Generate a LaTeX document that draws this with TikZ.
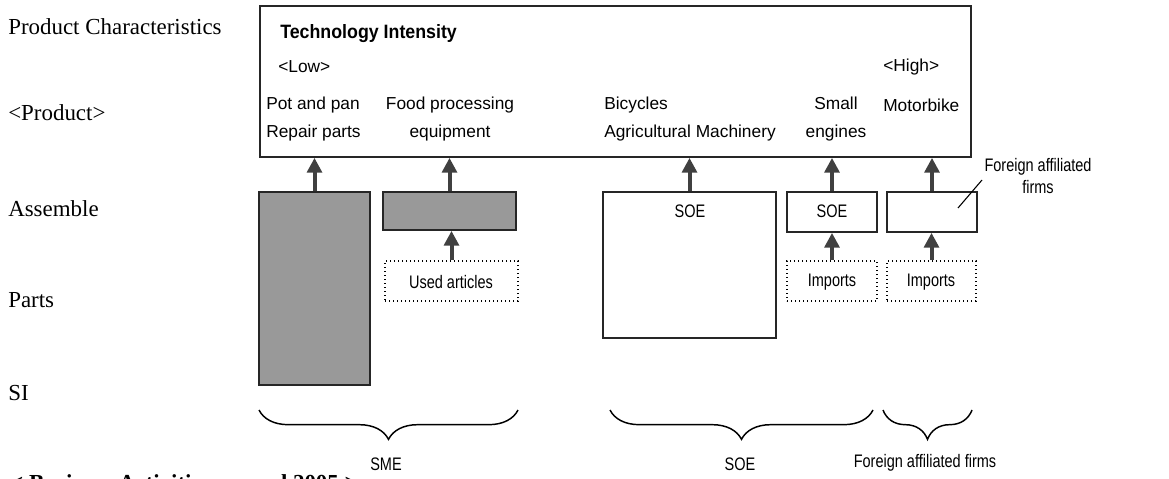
\documentclass[tikz,border=0pt]{standalone}
\usepackage{fontspec}
\setmainfont{Liberation Serif}
\newfontfamily\arialf{Liberation Sans}
\newfontfamily\arialn[FakeStretch=0.8]{Liberation Sans}
\newfontfamily\arialb[FakeStretch=0.92]{Liberation Sans}
\usetikzlibrary{arrows.meta,fit,decorations.pathreplacing}
\definecolor{arrowgray}{HTML}{404040}
\definecolor{boxgray}{HTML}{999999}
\begin{document}
\begin{tikzpicture}[x=0.75pt,y=-0.75pt,
  sidelbl/.style={font=\fontsize{17.2}{20}\selectfont, anchor=west, inner sep=0pt},
  prodlbl/.style={font=\arialf\fontsize{13}{21.5}\selectfont, inner sep=0pt},
  smalllbl/.style={font=\arialn\fontsize{13.6}{17}\selectfont, inner sep=0pt},
  solidbox/.style={draw=black!85, line width=1.3pt, inner sep=0pt},
  graybox/.style={solidbox, fill=boxgray},
  dotbox/.style={draw=black, dotted, line width=1pt, inner sep=0pt},
  uparrow/.style={draw=arrowgray, line width=3pt, -{Triangle[width=11pt,length=11pt]}},
  bracestyle/.style={draw=black, line width=1.1pt, decorate, decoration={brace, mirror, amplitude=22pt}}
]
\useasboundingbox (0,0) rectangle (1169,478);

% left labels
\node[sidelbl] (lpc) at (8,27) {Product Characteristics};
\node[sidelbl] (lprod) at (8,113) {<Product>};
\node[sidelbl] (lasm) at (8,209) {Assemble};
\node[sidelbl] (lparts) at (8,300) {Parts};
\node[sidelbl] (lsi) at (8,393) {SI};
\node[font=\bfseries\fontsize{17.2}{20}\selectfont, anchor=base west, inner sep=0pt] (lbiz) at (10,490) {< Business Activities around 2005 >};

% main box
\node[solidbox, fit={(260,6) (971,157)}] (main) {};
\node[font=\arialb\bfseries\fontsize{14.5}{16}\selectfont, anchor=west, inner sep=0pt] (tech) at (280,34) {Technology Intensity};
\node[prodlbl, anchor=west] (low) at (278,67) {<Low>};
\node[prodlbl, anchor=west] (high) at (883,67) {<High>};
\node[prodlbl, anchor=west, align=left] (p1) at (266,119) {Pot and pan\\Repair parts};
\node[prodlbl, align=center] (p2) at (450,119) {Food processing\\equipment};
\node[prodlbl, anchor=west, align=left] (p3) at (604,119) {Bicycles\\Agricultural Machinery};
\node[prodlbl, align=center] (p4) at (836,119) {Small\\engines};
\node[prodlbl, anchor=west] (p5) at (883,105) {Motorbike};

% assemble boxes
\node[graybox, fit={(259,192) (370,385)}] (sme) {};
\node[graybox, fit={(383,192) (516,230)}] (food) {};
\node[solidbox, fit={(603,192) (776,338)}] (soe1) {};
\node[smalllbl] (soe1t) at (690,211) {SOE};
\node[solidbox, fit={(787,192) (877,232)}] (soe2) {};
\node[smalllbl] (soe2t) at (832,211) {SOE};
\node[solidbox, fit={(887,192) (977,232)}] (fa) {};

% parts boxes
\node[dotbox, fit={(385,261) (518,301)}] (used) {};
\node[smalllbl] (usedt) at (451,282) {Used articles};
\node[dotbox, fit={(787,261) (877,301)}] (imp1) {};
\node[smalllbl] (imp1t) at (832,282) {Imports};
\node[dotbox, fit={(887,261) (976,301)}] (imp2) {};
\node[smalllbl] (imp2t) at (931,282) {Imports};

% arrows to main
\draw[uparrow] (sme.north) -- (sme.north |- main.south);
\draw[uparrow] (food.north) -- (food.north |- main.south);
\draw[uparrow] (soe1.north) -- (soe1.north |- main.south);
\draw[uparrow] (soe2.north) -- (soe2.north |- main.south);
\draw[uparrow] (fa.north) -- (fa.north |- main.south);
% arrows from parts
\draw[uparrow] (used.north) -- (used.north |- food.south);
\draw[uparrow] (imp1.north) -- (imp1.north |- soe2.south);
\draw[uparrow] (imp2.north) -- (imp2.north |- fa.south);

% foreign affiliated callout
\node[smalllbl, align=center] (fanote) at (1038,176) {Foreign affiliated\\firms};
\coordinate (fapt) at (958,208);
\draw[line width=0.8pt] (fapt) -- (982,180);

% braces
\coordinate (b1s) at (259,410); \coordinate (b1e) at (518,410);
\coordinate (b2s) at (610,410); \coordinate (b2e) at (873,410);
\coordinate (b3s) at (883,410); \coordinate (b3e) at (972,410);
\draw[bracestyle] (b1s) -- (b1e);
\draw[bracestyle] (b2s) -- (b2e);
\draw[bracestyle] (b3s) -- (b3e);
\node[smalllbl] (smel) at (386,464) {SME};
\node[smalllbl] (soel) at (740,464) {SOE};
\node[smalllbl] (fal) at (925,463) {Foreign affiliated firms};
\end{tikzpicture}
\end{document}
